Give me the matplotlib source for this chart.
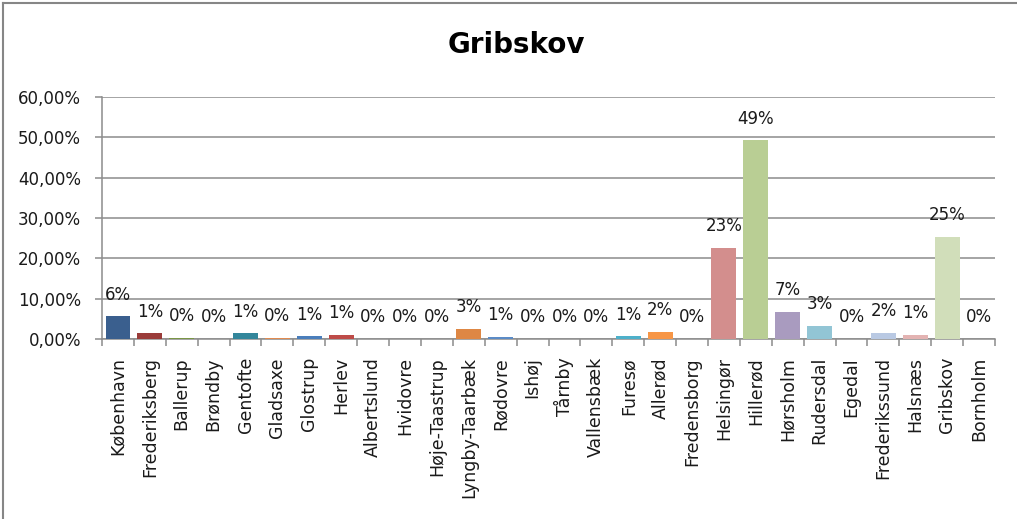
import matplotlib
matplotlib.use("Agg")
import matplotlib.pyplot as plt
from matplotlib.lines import Line2D
import numpy as np

title = "Gribskov"
categories = ["København", "Frederiksberg", "Ballerup", "Brøndby", "Gentofte", "Gladsaxe",
              "Glostrup", "Herlev", "Albertslund", "Hvidovre", "Høje-Taastrup",
              "Lyngby-Taarbæk", "Rødovre", "Ishøj", "Tårnby", "Vallensbæk", "Furesø",
              "Allerød", "Fredensborg", "Helsingør", "Hillerød", "Hørsholm", "Rudersdal",
              "Egedal", "Frederikssund", "Halsnæs", "Gribskov", "Bornholm"]
values = [5.7, 1.4, 0.3, 0.0, 1.4, 0.3, 0.7, 1.0, 0.0, 0.0, 0.0, 2.6, 0.6, 0.0, 0.0, 0.0,
          0.7, 1.8, 0.0, 22.6, 49.3, 6.7, 3.3, 0.0, 1.6, 1.0, 25.3, 0.0]
yticks = [0, 10, 20, 30, 40, 50, 60]

colors = ["#3A5F8E", "#9A3B39", "#7A9646", "#5E4A7B", "#33869B", "#E08A50",
          "#4A7EBB", "#BE4B48", "#98B954", "#7D60A0", "#46AAC5", "#DE8744",
          "#5B8BC6", "#C96461", "#A5C26C", "#8D74AE", "#4DB0CA", "#F79646",
          "#7FA2D0", "#D38E8D", "#B9CE94", "#A99BBF", "#92C5D5", "#F9B47E",
          "#B9C9E3", "#E3B3B2", "#D1DEBA", "#C7BEDA"]

fig = plt.figure(figsize=(10.17, 5.19), dpi=100)
ax = fig.add_axes([102/1017, 1-339/519, (995-102)/1017, (339-97)/519])

x = np.arange(len(categories))
ax.bar(x, values, width=0.78, color=colors, zorder=3, edgecolor="none")

for xi, v in zip(x, values):
    ax.annotate(f"{int(round(v))}%", (xi, v), xytext=(0, 9), textcoords="offset points",
                ha="center", va="bottom", fontsize=12, color="#1a1a1a", zorder=4)

ax.set_xlim(-0.5, len(categories) - 0.5)
ax.set_ylim(0, 60)
ax.set_yticks(yticks)
ax.set_yticklabels([f"{t:.2f}".replace(".", ",") + "%" for t in yticks], fontsize=12,
                   color="#1a1a1a")
ax.yaxis.grid(True, color="#8C8C8C", linewidth=1.1, zorder=0)

ax.set_xticks(np.arange(-0.5, len(categories), 1.0))
ax.set_xticklabels([])
ax.set_xticks(x, minor=True)
ax.set_xticklabels(categories, minor=True, rotation=90, fontsize=12.5, va="top", ha="center",
                   color="#1a1a1a")
ax.tick_params(axis="x", which="major", length=5, color="#8C8C8C", width=1.1)
ax.tick_params(axis="x", which="minor", length=0, pad=13)
ax.tick_params(axis="y", length=5, color="#8C8C8C", width=1.1, pad=10)

for s in ["top", "right"]:
    ax.spines[s].set_visible(False)
for s in ["left", "bottom"]:
    ax.spines[s].set_color("#8C8C8C")
    ax.spines[s].set_linewidth(1.1)

fig.text(516/1017, 1-45/519, title, ha="center", va="center", fontsize=20, fontweight="bold")

fig.add_artist(Line2D([3/1017, 3/1017], [0, 1-3/519], transform=fig.transFigure,
                      color="#868686", linewidth=1.5))
fig.add_artist(Line2D([3/1017, 1], [1-3/519, 1-3/519], transform=fig.transFigure,
                      color="#868686", linewidth=1.5))

fig.savefig("out.png", dpi=100)
